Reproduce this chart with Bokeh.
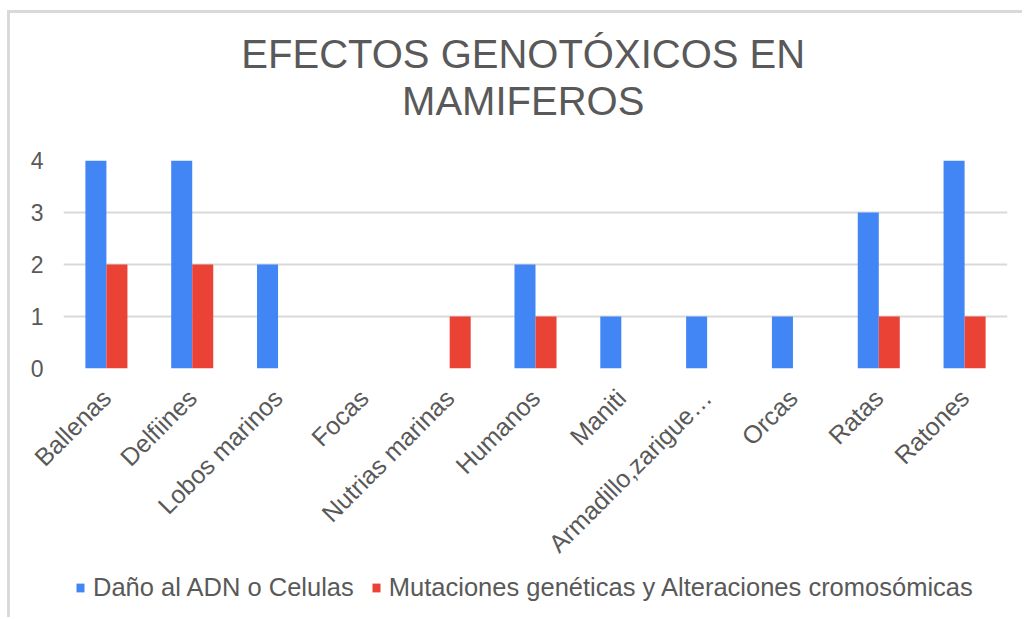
import math
import numpy as np
from bokeh.plotting import figure
from bokeh.layouts import column
from bokeh.models import FactorRange, Range1d, FixedTicker, Legend, LegendItem, Label, ColumnDataSource
from bokeh.transform import dodge
from bokeh.embed import file_html
from bokeh.resources import INLINE

categories = ["Ballenas", "Delfiines", "Lobos marinos", "Focas", "Nutrias marinas",
              "Humanos", "Maniti", "Armadillo,zarigue…", "Orcas", "Ratas", "Ratones"]
dano_adn = [4, 4, 2, 0, 0, 2, 1, 1, 1, 3, 4]
mutaciones = [2, 2, 0, 0, 1, 1, 0, 0, 0, 1, 1]
series_names = ["Daño al ADN o Celulas", "Mutaciones genéticas y Alteraciones cromosómicas"]
y_ticks = [0, 1, 2, 3, 4]
title_lines = ["EFECTOS GENOTÓXICOS EN", "MAMIFEROS"]

FONT = "Liberation Sans"
GREY = "#595959"
BLUE = "#4285F4"
RED = "#EA4335"
W = 1012


def bare(height):
    f = figure(width=W, height=height, x_range=Range1d(0, 1), y_range=Range1d(0, 1),
               output_backend="svg", toolbar_location=None,
               x_axis_location=None, y_axis_location=None,
               min_border=0, outline_line_color=None)
    f.xgrid.grid_line_color = None
    f.ygrid.grid_line_color = None
    return f


# title strip
top = bare(120)
for txt, yy in zip(title_lines, [0.6625, 0.2708]):
    top.add_layout(Label(x=0.487, y=yy, text=txt, text_align="center",
                         text_baseline="alphabetic", text_font=FONT,
                         text_font_size="40px", text_color=GREY))

# main chart
src = ColumnDataSource(dict(cat=categories, dano=dano_adn, mut=mutaciones))
p = figure(x_range=FactorRange(factors=categories, range_padding=0),
           y_range=Range1d(0, 4),
           width=W, height=437,
           output_backend="svg", toolbar_location=None,
           min_border_left=53, min_border_right=15,
           min_border_top=27, min_border_bottom=200)

bw = 0.245
p.vbar(x=dodge("cat", -bw / 2, range=p.x_range), top="dano", width=bw, source=src,
       fill_color=BLUE, line_color=None)
p.vbar(x=dodge("cat", bw / 2, range=p.x_range), top="mut", width=bw, source=src,
       fill_color=RED, line_color=None)

p.outline_line_color = None
p.xgrid.grid_line_color = None
p.ygrid.grid_line_color = "#d9d9d9"
p.ygrid.grid_line_width = 2
p.yaxis.ticker = FixedTicker(ticks=y_ticks)

for ax in (p.xaxis[0], p.yaxis[0]):
    ax.axis_line_color = None
    ax.major_tick_line_color = None
    ax.minor_tick_line_color = None
    ax.major_tick_out = 0
    ax.major_tick_in = 0
    ax.major_label_text_font = FONT
    ax.major_label_text_color = GREY

p.yaxis.major_label_text_font_size = "23px"
p.xaxis.major_label_text_font_size = "25px"
p.yaxis.major_label_standoff = 20
p.xaxis.major_label_standoff = 25
p.xaxis.major_label_orientation = math.pi / 4

# legend strip
leg = bare(47)
nan = np.array([np.nan])
g1 = leg.vbar(x=nan, top=nan, width=0.1, fill_color=BLUE, line_color=None)
g2 = leg.vbar(x=nan, top=nan, width=0.1, fill_color=RED, line_color=None)
legend = Legend(items=[LegendItem(label=series_names[0], renderers=[g1]),
                       LegendItem(label=series_names[1], renderers=[g2])],
                orientation="horizontal", location=(12, 15),
                border_line_color=None, background_fill_alpha=0,
                label_text_font=FONT, label_text_font_size="25.5px", label_text_color=GREY,
                glyph_width=10, glyph_height=11, label_standoff=8, spacing=17,
                padding=0, margin=0)
leg.add_layout(legend, "center")

layout = column(top, p, leg, spacing=0,
                styles={"border-top": "3px solid #d9d9d9", "border-left": "3px solid #d9d9d9",
                        "margin-top": "10px", "margin-left": "7px"})

open("out.html", "w").write(file_html(layout, INLINE))
